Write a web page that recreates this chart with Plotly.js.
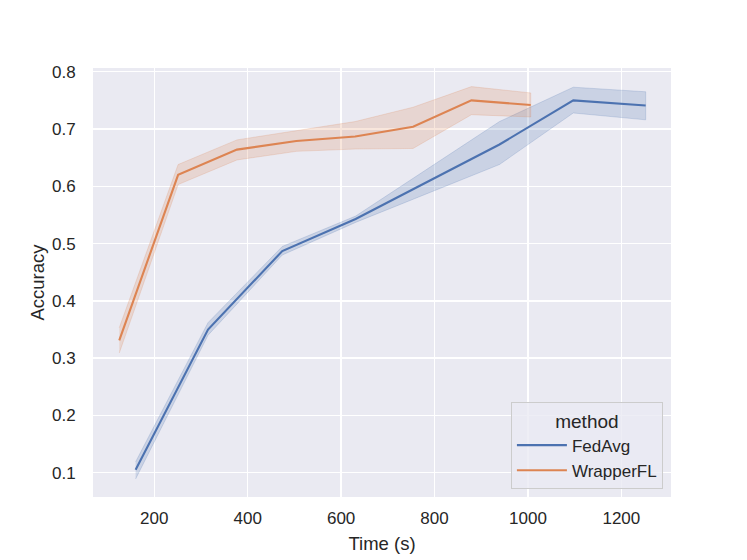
<!DOCTYPE html>
<html>
<head>
<meta charset="utf-8">
<script src="https://cdn.plot.ly/plotly-3.0.1.min.js"></script>
<style>html,body{margin:0;padding:0;background:#fff;}#chart{width:747px;height:560px;}</style>
</head>
<body>
<div id="chart"></div>
<script>
// FedAvg
var fedTime  = [160, 315, 474, 631, 939, 1097, 1252];
var fedMean  = [0.105, 0.350, 0.487, 0.543, 0.673, 0.750, 0.741];
var fedLow   = [0.089, 0.340, 0.480, 0.537, 0.638, 0.728, 0.716];
var fedHigh  = [0.119, 0.362, 0.495, 0.548, 0.713, 0.773, 0.765];
// WrapperFL
var wrapTime = [125, 251, 377, 504, 630, 754, 879, 1006];
var wrapMean = [0.331, 0.620, 0.664, 0.679, 0.687, 0.704, 0.750, 0.742];
var wrapLow  = [0.309, 0.603, 0.646, 0.661, 0.665, 0.666, 0.725, 0.721];
var wrapHigh = [0.353, 0.638, 0.681, 0.697, 0.713, 0.738, 0.774, 0.763];

var xTicks = [200, 400, 600, 800, 1000, 1200];
var yTicks = [0.1, 0.2, 0.3, 0.4, 0.5, 0.6, 0.7, 0.8];

var blue = '#4c72b0', orange = '#dd8452';

function band(t, lo, hi, fillc, edgec) {
  return {
    x: t.concat(t.slice().reverse()),
    y: hi.concat(lo.slice().reverse()),
    type: 'scatter', mode: 'lines', fill: 'toself',
    fillcolor: fillc, line: {color: edgec, width: 1},
    hoverinfo: 'skip', showlegend: false
  };
}

var data = [
  band(fedTime, fedLow, fedHigh, 'rgba(76,114,176,0.2)', 'rgba(76,114,176,0.2)'),
  band(wrapTime, wrapLow, wrapHigh, 'rgba(221,132,82,0.2)', 'rgba(221,132,82,0.2)'),
  {x: fedTime, y: fedMean, type: 'scatter', mode: 'lines', name: 'FedAvg',
   line: {color: blue, width: 2.1}},
  {x: wrapTime, y: wrapMean, type: 'scatter', mode: 'lines', name: 'WrapperFL',
   line: {color: orange, width: 2.1}}
];

var fam = 'Liberation Sans, Arial, sans-serif', col = '#262626';

var layout = {
  width: 747, height: 560,
  margin: {l: 93, r: 76, t: 68, b: 63, pad: 0},
  paper_bgcolor: '#ffffff',
  plot_bgcolor: '#eaeaf2',
  font: {family: fam, color: col, size: 17},
  xaxis: {
    range: [68.75, 1306.25],
    tickvals: xTicks, ticktext: xTicks.map(String),
    showgrid: true, gridcolor: '#ffffff', gridwidth: 1.4,
    zeroline: false, showline: false,
    ticks: 'outside', ticklen: 6, tickcolor: 'rgba(0,0,0,0)',
    tickfont: {size: 17, family: fam, color: col},
    title: {text: 'Time (s)', font: {size: 18.5, family: fam, color: col}, standoff: 9}
  },
  yaxis: {
    range: [0.0576, 0.8065],
    tickvals: yTicks, ticktext: yTicks.map(function(v){return v.toFixed(1);}),
    showgrid: true, gridcolor: '#ffffff', gridwidth: 1.4,
    zeroline: false, showline: false,
    ticks: 'outside', ticklen: 13, tickcolor: 'rgba(0,0,0,0)',
    tickfont: {size: 17, family: fam, color: col},
    title: {text: 'Accuracy', font: {size: 18.5, family: fam, color: col}, standoff: 2}
  },
  showlegend: true,
  legend: {
    x: 0.986, xanchor: 'right', y: 0.019, yanchor: 'bottom',
    bgcolor: 'rgba(234,234,242,0.8)', bordercolor: '#cccccc', borderwidth: 1,
    font: {size: 17, family: fam, color: col},
    title: {text: 'method', side: 'top center', font: {size: 19, family: fam, color: col}},
    itemwidth: 50,
    tracegroupgap: 0
  }
};

Plotly.newPlot('chart', data, layout, {displayModeBar: false, staticPlot: true});
</script>
</body>
</html>
